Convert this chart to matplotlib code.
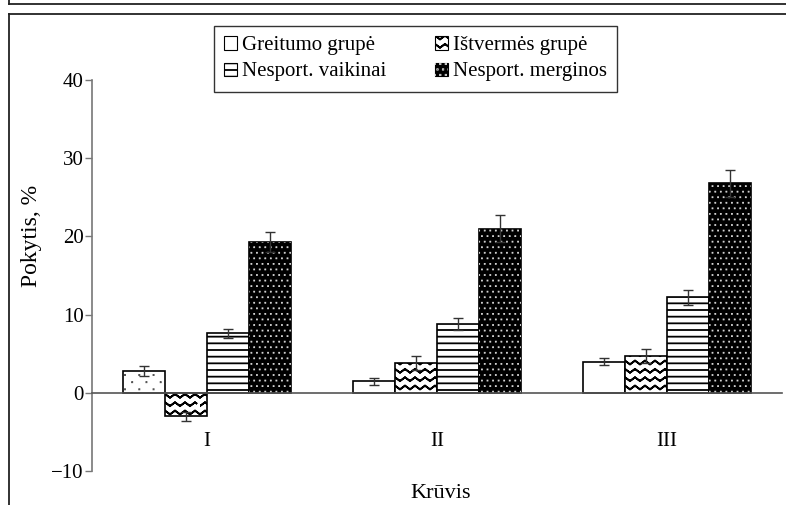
import warnings
import numpy as np
import matplotlib
matplotlib.use("Agg")
import matplotlib.pyplot as plt
from matplotlib import hatch as mhatch
from matplotlib.path import Path
from matplotlib.patches import Patch
from matplotlib.lines import Line2D

warnings.filterwarnings("ignore")

# data
categories = ["I", "II", "III"]
series = ["Greitumo grupė", "Ištvermės grupė", "Nesport. vaikinai", "Nesport. merginos"]
greitumo = [2.8, 1.45, 4.0]
greitumo_err = [0.6, 0.45, 0.45]
istvermes = [-3.0, 3.8, 4.7]
istvermes_err = [0.6, 0.9, 0.85]
vaikinai = [7.6, 8.8, 12.2]
vaikinai_err = [0.6, 0.75, 1.0]
merginos = [19.3, 21.0, 26.8]
merginos_err = [1.3, 1.75, 1.7]


# custom hatches: zigzag 'z', fine horizontal lines 'h',
# sparse staggered dots 'd', dense dot grid 'g'
class ZigzagHatch(mhatch.HatchPatternBase):
    def __init__(self, hatch, density):
        self.num_rows = 12 * hatch.count('z')
        self.num_waves = 10
        n = 2 * self.num_waves + 1
        self.num_vertices = self.num_rows * (2 * n - 1)

    def set_vertices_and_codes(self, vertices, codes):
        n = 2 * self.num_waves + 1
        xs = np.linspace(0, 1, n)
        amp = 0.22 / 12
        off = np.where(np.arange(n) % 2 == 0, -amp, amp)
        m = 2 * n - 1
        for i in range(self.num_rows):
            y0 = (i + 0.5) / self.num_rows
            # go along the zigzag and back, so the filled area is zero
            px = np.concatenate([xs, xs[-2::-1]])
            py = np.concatenate([y0 + off, (y0 + off)[-2::-1]])
            vertices[i * m:(i + 1) * m, 0] = px
            vertices[i * m:(i + 1) * m, 1] = py
            codes[i * m] = Path.MOVETO
            codes[i * m + 1:(i + 1) * m] = Path.LINETO


class FineHLines(mhatch.HatchPatternBase):
    def __init__(self, hatch, density):
        self.num_lines = 15 * hatch.count('h')
        self.num_vertices = self.num_lines * 2

    def set_vertices_and_codes(self, vertices, codes):
        steps = (np.arange(self.num_lines) + 0.5) / self.num_lines
        vertices[0::2, 0] = 0.0
        vertices[0::2, 1] = steps
        vertices[1::2, 0] = 1.0
        vertices[1::2, 1] = steps
        codes[0::2] = Path.MOVETO
        codes[1::2] = Path.LINETO


class DotHatch(mhatch.HatchPatternBase):
    # (char, columns per tile, rows per tile, staggered, dot size)
    specs = {'d': (7, 14, True, 0.003), 'g': (18, 18, True, 0.002)}

    def __init__(self, hatch, density):
        self.pts = []
        for ch, (nc, nr, stag, sz) in self.specs.items():
            if ch in hatch:
                for r in range(nr):
                    yv = (r + 0.5) / nr
                    shift = 0.5 / nc if (stag and r % 2) else 0.0
                    for c in range(nc):
                        self.pts.append(((c + 0.25) / nc + shift, yv, sz))
        self.num_vertices = len(self.pts) * 5

    def set_vertices_and_codes(self, vertices, codes):
        sq = np.array([[-1, -1], [1, -1], [1, 1], [-1, 1], [-1, -1]], float)
        for i, (px, py, sz) in enumerate(self.pts):
            vertices[i * 5:(i + 1) * 5] = sq * sz + [px % 1.0, py]
            codes[i * 5] = Path.MOVETO
            codes[i * 5 + 1:i * 5 + 4] = Path.LINETO
            codes[i * 5 + 4] = Path.CLOSEPOLY


mhatch._hatch_types.extend([ZigzagHatch, FineHLines, DotHatch])

plt.rcParams['font.family'] = ['Liberation Serif', 'DejaVu Serif']
plt.rcParams['hatch.linewidth'] = 1.3

fig = plt.figure(figsize=(7.86, 5.05), dpi=100)
ax = fig.add_axes([92 / 786, 1 - 471 / 505, 690 / 786, 391 / 505])

x = np.arange(len(categories))
w = 0.183
err_kw = dict(ecolor='#333333', elinewidth=1.0, capsize=3.5, capthick=1.0)

ax.bar(x - 1.5 * w, greitumo, w, yerr=greitumo_err, facecolor='white',
       edgecolor='black', linewidth=1.2, error_kw=err_kw, zorder=2)
with plt.rc_context({'hatch.linewidth': 1.0}):
    ax.bar(x[:1] - 1.5 * w, greitumo[:1], w, facecolor='none', edgecolor='#555555',
           linewidth=0, hatch='d', zorder=2)
ax.bar(x - 0.5 * w, istvermes, w, yerr=istvermes_err, facecolor='white',
       edgecolor='black', linewidth=1.2, hatch='z', error_kw=err_kw, zorder=2)
ax.bar(x + 0.5 * w, vaikinai, w, yerr=vaikinai_err, facecolor='white',
       edgecolor='black', linewidth=1.2, hatch='h', error_kw=err_kw, zorder=2)
ax.bar(x + 1.5 * w, merginos, w, facecolor='black', edgecolor='black',
       linewidth=1.2, zorder=2)
with plt.rc_context({'hatch.linewidth': 1.0}):
    ax.bar(x + 1.5 * w, merginos, w, facecolor='none', edgecolor='#dddddd',
           linewidth=0, hatch='g', zorder=2)
ax.errorbar(x + 1.5 * w, merginos, yerr=merginos_err, fmt='none', zorder=3, **err_kw)

ax.set_xlim(-0.5, 2.5)
ax.set_ylim(-10, 40)
ax.set_yticks([-10, 0, 10, 20, 30, 40])
ax.set_yticklabels(['\u221210', '0', '10', '20', '30', '40'])
ax.set_xticks(x)
ax.set_xticklabels(categories)

for s in ['top', 'right']:
    ax.spines[s].set_visible(False)
ax.spines['left'].set_color('#777777')
ax.spines['bottom'].set_color('#555555')
ax.spines['bottom'].set_position(('data', 0))
ax.spines['left'].set_linewidth(1.2)
ax.spines['bottom'].set_linewidth(1.2)
ax.tick_params(axis='y', direction='out', length=5, width=1, color='#777777',
               labelsize=15, pad=1)
ax.tick_params(axis='x', length=0, labelsize=15, pad=28)

fig.text(441 / 786, 1 - 493 / 505, 'Krūvis', ha='center', va='center', fontsize=16)
fig.text(32 / 786, 1 - 236 / 505, 'Pokytis, %', ha='center', va='center',
         rotation=90, fontsize=17)

handles = [
    Patch(facecolor='white', edgecolor='black', linewidth=0.8),
    Patch(facecolor='white', edgecolor='black', linewidth=0.8, hatch='h'),
    Patch(facecolor='white', edgecolor='black', linewidth=0.8, hatch='z'),
    (Patch(facecolor='black', edgecolor='black', linewidth=0.8),
     Patch(facecolor='none', edgecolor='#dddddd', linewidth=0, hatch='g')),
]
labels = [series[0], series[2], series[1], series[3]]
leg = fig.legend(handles, labels, ncol=2, loc='upper left',
                 bbox_to_anchor=(214 / 786, 1 - 26 / 505), fontsize=15,
                 frameon=True, fancybox=False, edgecolor='black',
                 handlelength=0.6, handleheight=0.6, handletextpad=0.25,
                 columnspacing=2.35, borderpad=0.5, labelspacing=0.34,
                 borderaxespad=0)
leg.get_frame().set_linewidth(1.0)

# outer frame lines of the figure box
fig.add_artist(Line2D([9 / 786, 1], [1 - 4 / 505, 1 - 4 / 505], color='#222222', lw=1.3))
fig.add_artist(Line2D([9 / 786, 9 / 786], [1, 1 - 4 / 505], color='#222222', lw=1.3))
fig.add_artist(Line2D([9 / 786, 1], [1 - 14 / 505, 1 - 14 / 505], color='#222222', lw=1.3))
fig.add_artist(Line2D([9 / 786, 9 / 786], [0, 1 - 14 / 505], color='#222222', lw=1.3))

fig.savefig('out.png', dpi=100)
